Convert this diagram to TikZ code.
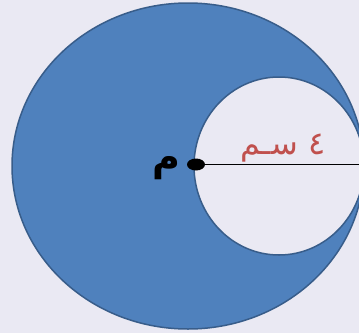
\documentclass[tikz,border=0pt]{standalone}
\usepackage{fontspec}
\newfontfamily\arabicfont[Script=Arabic]{DejaVu Sans}
\TeXXeTstate=1
\definecolor{bg}{RGB}{234,233,243}
\definecolor{fillblue}{RGB}{79,129,189}
\definecolor{edgeblue}{RGB}{56,93,138}
\definecolor{lblred}{RGB}{192,80,77}
\tikzset{
  disc/.style={draw=edgeblue, line width=1.5pt},
  ptlabel/.style={font=\arabicfont\bfseries\fontsize{38}{38}\selectfont, text=black, inner sep=0pt},
  lenlabel/.style={font=\arabicfont\fontsize{32}{32}\selectfont, text=lblred, inner sep=0pt}
}
\begin{document}
\begin{tikzpicture}[x=1pt,y=-1pt]
\useasboundingbox (0,0) rectangle (359,333);
\fill[bg] (0,0) rectangle (359,333);
\begin{scope}
\clip (0,0) rectangle (359,333);
\draw[disc, fill=fillblue] (188,166) ellipse [x radius=176, y radius=163];
\draw[disc, fill=bg] (279,166) ellipse [x radius=85, y radius=89];
\end{scope}
\coordinate (m) at (196,164.5);
\coordinate (e) at (359,164.5);
\draw[line width=1pt] (m) -- (e);
\fill (m) ellipse [x radius=9, y radius=6];
\node[ptlabel] (mlabel) at (166,168) {\beginR م\endR};
\node[lenlabel] (rlabel) at (283,148) {\beginR ٤ سـم\endR};
\end{tikzpicture}
\end{document}
